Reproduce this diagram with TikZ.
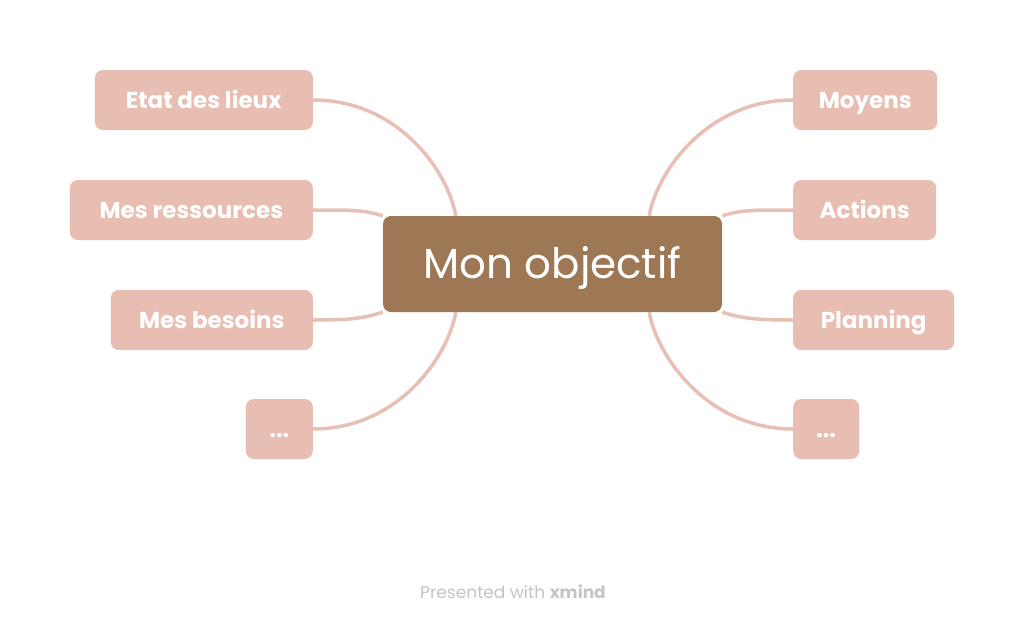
\documentclass[tikz,border=0pt]{standalone}
\usepackage{fontspec}
\setmainfont{Poppins}
\usetikzlibrary{backgrounds}
\definecolor{pinkbox}{HTML}{E8BDB2}
\definecolor{brownbox}{HTML}{9E7855}
\definecolor{linkc}{HTML}{E8BFB4}
\definecolor{footc}{HTML}{C4C4C4}
\begin{document}
\begin{tikzpicture}[x=1pt,y=-1pt,
  child/.style={fill=pinkbox,rounded corners=8pt,minimum height=60pt,inner sep=0pt,
    text=white,font=\fontsize{23}{27}\selectfont\bfseries,text height=16pt,text depth=0pt},
  main/.style={fill=brownbox,rounded corners=8pt,minimum width=339pt,minimum height=96pt,
    inner sep=0pt,text=white,font=\fontsize{42}{50}\selectfont,text height=29pt,text depth=0pt},
  link/.style={draw=linkc,line width=3.5pt}]
\useasboundingbox (0,0) rectangle (1024,626);
\node[main] (m) at (552.5,264) {Mon objectif};
\node[child,anchor=east,minimum width=218pt] (l1) at (313,100) {Etat des lieux};
\node[child,anchor=east,minimum width=243pt] (l2) at (313,210) {Mes ressources};
\node[child,anchor=east,minimum width=202pt] (l3) at (313,320) {Mes besoins};
\node[child,anchor=east,minimum width=67pt] (l4) at (313,429) {...};
\node[child,anchor=west,minimum width=144pt] (r1) at (793,100) {Moyens};
\node[child,anchor=west,minimum width=143pt] (r2) at (793,210) {Actions};
\node[child,anchor=west,minimum width=161pt] (r3) at (793,320) {Planning};
\node[child,anchor=west,minimum width=66pt] (r4) at (793,429) {...};
\node[font=\fontsize{17}{20}\selectfont,text=footc] (f) at (513,592) {Presented with \textbf{xmind}};
\coordinate (mtl) at ([xshift=73pt]m.north west);
\coordinate (mtr) at ([xshift=-73pt]m.north east);
\coordinate (mbl) at ([xshift=73pt]m.south west);
\coordinate (mbr) at ([xshift=-73pt]m.south east);
\begin{scope}[on background layer]
\draw[link] (l1.east) .. controls +(85,0) and +(-8,-45) .. (mtl);
\draw[link] (l2.east) .. controls +(40,0) and +(-20,-6) .. (m.north west);
\draw[link] (l3.east) .. controls +(40,0) and +(-20,6) .. (m.south west);
\draw[link] (l4.east) .. controls +(85,0) and +(-8,45) .. (mbl);
\draw[link] (r1.west) .. controls +(-85,0) and +(8,-45) .. (mtr);
\draw[link] (r2.west) .. controls +(-40,0) and +(20,-6) .. (m.north east);
\draw[link] (r3.west) .. controls +(-40,0) and +(20,6) .. (m.south east);
\draw[link] (r4.west) .. controls +(-85,0) and +(8,45) .. (mbr);
\end{scope}
\end{tikzpicture}
\end{document}
